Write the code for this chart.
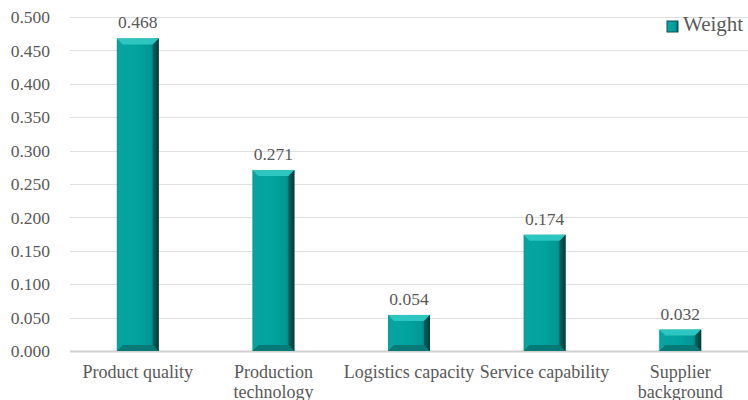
<!DOCTYPE html>
<html>
<head>
<meta charset="utf-8">
<script src="https://cdn.jsdelivr.net/npm/d3@7"></script>
<style>
  body { margin: 0; background: #fff; }
  svg text { font-family: "Liberation Serif", "Times New Roman", serif; fill: #595959; }
</style>
</head>
<body>
<div class="chartHolder"></div>
<script>
const categories = [
  ["Product quality"],
  ["Production", "technology"],
  ["Logistics capacity"],
  ["Service capability"],
  ["Supplier", "background"]
];
const weights = [0.468, 0.271, 0.054, 0.174, 0.032];
const yTicks = [0, 0.05, 0.1, 0.15, 0.2, 0.25, 0.3, 0.35, 0.4, 0.45, 0.5];
const seriesName = "Weight";

const width = 748;
const height = 400;
const margin = { top: 17, right: 0, bottom: 49, left: 70 };

const svg = d3
  .select(".chartHolder")
  .append("svg")
  .attr("width", width)
  .attr("height", height);

const defs = svg.append("defs");
const grad = defs
  .append("linearGradient")
  .attr("id", "barGrad")
  .attr("x1", "0%")
  .attr("x2", "100%");
[
  [0, "#0b9a96"],
  [0.06, "#07a5a1"],
  [0.5, "#02a29e"],
  [0.8, "#019894"],
  [0.9, "#017874"],
  [0.96, "#064a48"],
  [1, "#0a2e2e"]
].forEach(([o, c]) => grad.append("stop").attr("offset", o).attr("stop-color", c));

const xScale = d3
  .scaleBand()
  .domain(d3.range(categories.length))
  .range([margin.left, width - margin.right])
  .paddingInner(0.69)
  .paddingOuter(0.345);

const yScale = d3
  .scaleLinear()
  .domain([0, 0.5])
  .range([height - margin.bottom, margin.top]);

// gridlines
svg
  .append("g")
  .selectAll("line")
  .data(yTicks)
  .enter()
  .append("line")
  .attr("x1", margin.left)
  .attr("x2", width - margin.right)
  .attr("y1", (d) => Math.round(yScale(d)) + 0.5)
  .attr("y2", (d) => Math.round(yScale(d)) + 0.5)
  .attr("stroke", (d) => (d === 0 ? "#d0d0d0" : "#e0e0e0"))
  .attr("stroke-width", (d) => (d === 0 ? 2 : 1));

// y axis labels
const yAxis = d3
  .axisLeft(yScale)
  .tickValues(yTicks)
  .tickFormat(d3.format(".3f"))
  .tickSize(0)
  .tickPadding(20);

svg
  .append("g")
  .attr("id", "y-axis")
  .attr("transform", `translate(${margin.left}, 0)`)
  .call(yAxis)
  .attr("font-family", null)
  .attr("font-size", null)
  .call((g) => g.select(".domain").remove())
  .selectAll("text")
  .style("font-size", "17.5px")
  .attr("fill", "#595959");

// bars
const bars = svg
  .selectAll(".bar")
  .data(weights)
  .enter()
  .append("g")
  .attr("class", "bar");

const bw = xScale.bandwidth();
const bev = 6;

bars
  .append("rect")
  .attr("x", (d, i) => xScale(i))
  .attr("y", (d) => yScale(d))
  .attr("width", bw)
  .attr("height", (d) => yScale(0) - yScale(d))
  .attr("fill", "url(#barGrad)");

// top bevel
bars
  .append("path")
  .attr("d", (d, i) => {
    const x0 = xScale(i), y0 = yScale(d);
    return `M${x0},${y0}L${x0 + bw},${y0}L${x0 + bw - bev},${y0 + bev}L${x0 + bev},${y0 + bev}Z`;
  })
  .attr("fill", "#2cc5c0");

// bottom bevel
bars
  .append("path")
  .attr("d", (d, i) => {
    const x0 = xScale(i), y1 = yScale(0);
    return `M${x0},${y1}L${x0 + bw},${y1}L${x0 + bw - bev},${y1 - bev}L${x0 + bev},${y1 - bev}Z`;
  })
  .attr("fill", "#077a77");

// right edge shade
bars
  .append("path")
  .attr("d", (d, i) => {
    const x0 = xScale(i) + bw, y0 = yScale(d), y1 = yScale(0);
    return `M${x0},${y0}L${x0},${y1}L${x0 - bev},${y1 - bev}L${x0 - bev},${y0 + bev}Z`;
  })
  .attr("fill", "#0c3f3e")
  .attr("opacity", 0.55);

// value labels
svg
  .selectAll(".value")
  .data(weights)
  .enter()
  .append("text")
  .attr("class", "value")
  .attr("x", (d, i) => xScale(i) + bw / 2)
  .attr("y", (d) => yScale(d) - 10)
  .attr("text-anchor", "middle")
  .style("font-size", "17.5px")
  .text((d) => d.toFixed(3));

// category labels
const cat = svg
  .selectAll(".cat")
  .data(categories)
  .enter()
  .append("text")
  .attr("class", "cat")
  .attr("text-anchor", "middle")
  .style("font-size", "18px");

cat
  .selectAll("tspan")
  .data((d, i) => d.map((t) => ({ t, i })))
  .enter()
  .append("tspan")
  .attr("x", (d) => xScale(d.i) + bw / 2)
  .attr("y", (d, j) => 378 + j * 19.5)
  .text((d) => d.t);

// legend
const legend = svg.append("g").attr("transform", "translate(667, 21)");
legend
  .append("rect")
  .attr("width", 11)
  .attr("height", 11)
  .attr("fill", "url(#barGrad)")
  .attr("stroke", "#0c5350")
  .attr("stroke-width", 1);
legend
  .append("text")
  .attr("x", 16)
  .attr("y", 10)
  .style("font-size", "21px")
  .text(seriesName);
</script>
</body>
</html>
